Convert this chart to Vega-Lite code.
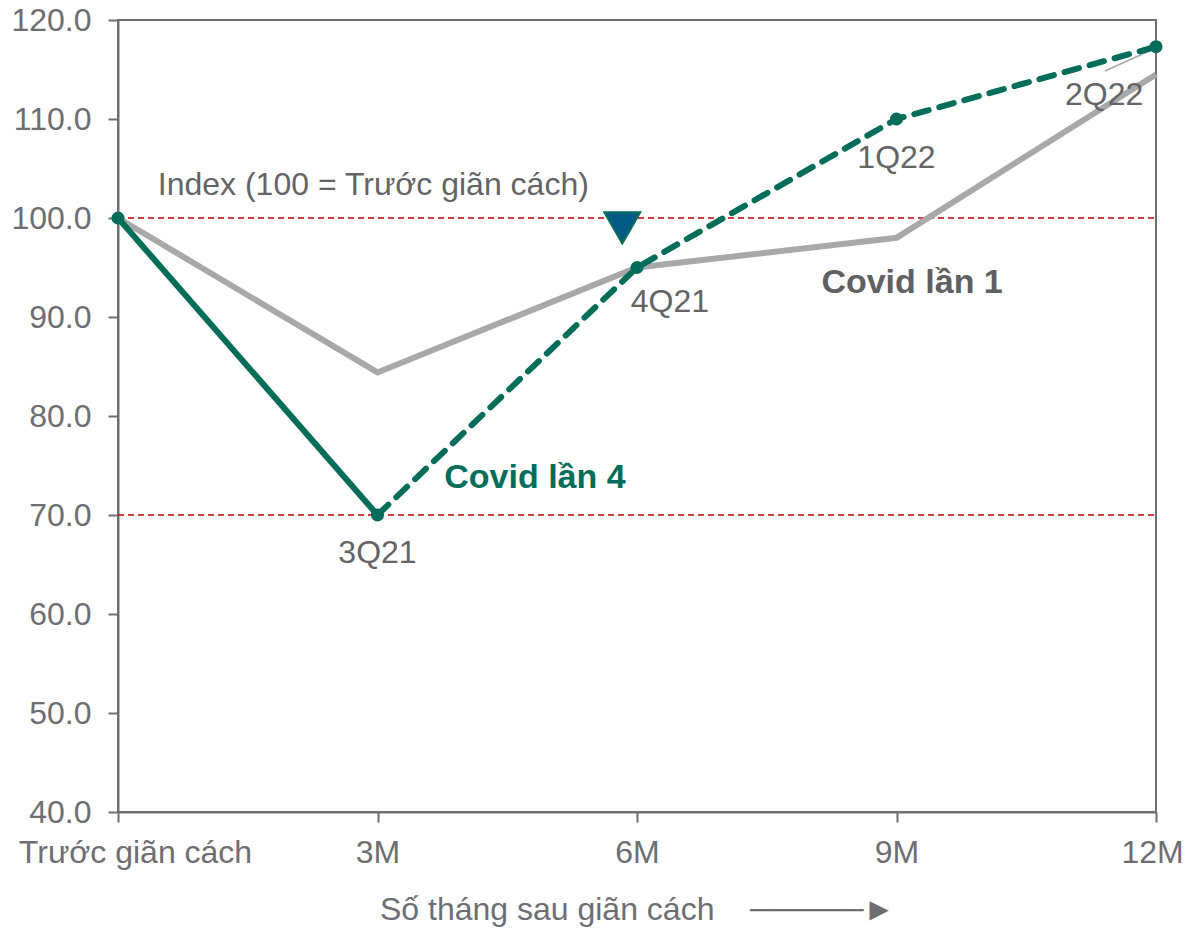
{
  "$schema": "https://vega.github.io/schema/vega-lite/v6.json",
  "width": 1038,
  "height": 792,
  "autosize": "none",
  "padding": {"left": 118, "top": 20, "right": 30, "bottom": 118},
  "background": "white",
  "datasets": {
    "lines": [
      {"series": "Covid lần 1", "month": 0, "value": 100},
      {"series": "Covid lần 1", "month": 3, "value": 84.4},
      {"series": "Covid lần 1", "month": 6, "value": 95.0},
      {"series": "Covid lần 1", "month": 9, "value": 98.0},
      {"series": "Covid lần 1", "month": 12, "value": 114.5}
    ],
    "wave4_actual": [
      {"series": "Covid lần 4", "month": 0, "value": 100},
      {"series": "Covid lần 4", "month": 3, "value": 70}
    ],
    "wave4_forecast": [
      {"series": "Covid lần 4", "month": 3, "value": 70},
      {"series": "Covid lần 4", "month": 6, "value": 95},
      {"series": "Covid lần 4", "month": 9, "value": 110},
      {"series": "Covid lần 4", "month": 12, "value": 117.3}
    ],
    "wave4_points": [
      {"month": 0, "value": 100},
      {"month": 3, "value": 70},
      {"month": 6, "value": 95},
      {"month": 9, "value": 110},
      {"month": 12, "value": 117.3}
    ],
    "refs": [
      {"month": 0, "month2": 12, "value": 100},
      {"month": 0, "month2": 12, "value": 70}
    ],
    "marker": [{"month": 5.83, "value": 99.0}],
    "leader": [{"month": 11.41, "month2": 12, "value": 114.85, "value2": 117.17}],
    "qlabels": [
      {"label": "3Q21", "month": 3, "value": 66.2},
      {"label": "4Q21", "month": 6.38, "value": 91.5},
      {"label": "1Q22", "month": 9.0, "value": 106.1},
      {"label": "2Q22", "month": 11.4, "value": 112.4}
    ],
    "note": [{"label": "Index (100 = Trước giãn cách)", "month": 0.46, "value": 103.3}],
    "name1": [{"label": "Covid lần 1", "month": 9.18, "value": 93.4}],
    "name4": [{"label": "Covid lần 4", "month": 4.82, "value": 73.7}]
  },
  "encoding": {
    "x": {
      "field": "month",
      "type": "quantitative",
      "scale": {"domain": [0, 12], "nice": false, "zero": false},
      "axis": {
        "values": [0, 3, 6, 9, 12],
        "labelExpr": "datum.value == 0 ? 'Trước giãn cách' : datum.value + 'M'",
        "labelOffset": {"condition": [{"test": "datum.value == 0", "value": 17}, {"test": "datum.value == 12", "value": -4}], "value": 0},
        "labelLimit": 0,
        "labelFlush": false,
        "labelOverlap": false,
        "labelPadding": 15,
        "title": "Số tháng sau giãn cách\u00a0\u00a0\u00a0\u00a0─────►",
        "titleFontSize": 32,
        "titlePadding": 26,
        "grid": false
      }
    },
    "y": {
      "field": "value",
      "type": "quantitative",
      "scale": {"domain": [40, 120], "nice": false, "zero": false},
      "axis": {
        "values": [40, 50, 60, 70, 80, 90, 100, 110, 120],
        "format": ".1f",
        "labelPadding": 17,
        "labelOverlap": false,
        "title": null,
        "grid": false
      }
    }
  },
  "layer": [
    {
      "data": {"name": "refs"},
      "mark": {"type": "rule", "color": "#C00000", "strokeWidth": 1.6, "strokeDash": [6, 4]},
      "encoding": {"x2": {"field": "month2"}}
    },
    {
      "data": {"name": "lines"},
      "mark": {"type": "line", "color": "#A8A8A8", "strokeWidth": 6}
    },
    {
      "data": {"name": "leader"},
      "mark": {"type": "rule", "color": "#A8A8A8", "strokeWidth": 1.5},
      "encoding": {"x2": {"field": "month2"}, "y2": {"field": "value2"}}
    },
    {
      "data": {"name": "wave4_actual"},
      "mark": {"type": "line", "color": "#006D5B", "strokeWidth": 6}
    },
    {
      "data": {"name": "wave4_forecast"},
      "mark": {"type": "line", "color": "#006D5B", "strokeWidth": 6, "strokeDash": [15, 11], "strokeCap": "round"}
    },
    {
      "data": {"name": "wave4_points"},
      "mark": {"type": "point", "shape": "circle", "filled": true, "color": "#006D5B", "size": 170, "opacity": 1}
    },
    {
      "data": {"name": "marker"},
      "mark": {"type": "point", "shape": "triangle-down", "filled": true, "fill": "#005B82", "stroke": "#006D5B", "strokeWidth": 2, "size": 1296, "opacity": 1}
    },
    {
      "data": {"name": "qlabels"},
      "mark": {"type": "text", "font": "Liberation Sans", "fontSize": 32, "color": "#636466", "align": "center", "baseline": "middle"},
      "encoding": {"text": {"field": "label"}}
    },
    {
      "data": {"name": "note"},
      "mark": {"type": "text", "font": "Liberation Sans", "fontSize": 32, "color": "#636466", "align": "left", "baseline": "middle"},
      "encoding": {"text": {"field": "label"}}
    },
    {
      "data": {"name": "name1"},
      "mark": {"type": "text", "font": "Liberation Sans", "fontSize": 34, "fontWeight": "bold", "color": "#5F6062", "align": "center", "baseline": "middle"},
      "encoding": {"text": {"field": "label"}}
    },
    {
      "data": {"name": "name4"},
      "mark": {"type": "text", "font": "Liberation Sans", "fontSize": 34, "fontWeight": "bold", "color": "#006D5B", "align": "center", "baseline": "middle"},
      "encoding": {"text": {"field": "label"}}
    }
  ],
  "config": {
    "view": {"stroke": "#6D6E71", "strokeWidth": 2},
    "axis": {
      "domainColor": "#6D6E71",
      "domainWidth": 2,
      "tickColor": "#6D6E71",
      "tickWidth": 2,
      "tickSize": 10,
      "labelFont": "Liberation Sans",
      "labelFontSize": 32,
      "labelColor": "#6D6E71",
      "titleFont": "Liberation Sans",
      "titleFontSize": 31,
      "titleFontWeight": "normal",
      "titleColor": "#6D6E71"
    }
  }
}
